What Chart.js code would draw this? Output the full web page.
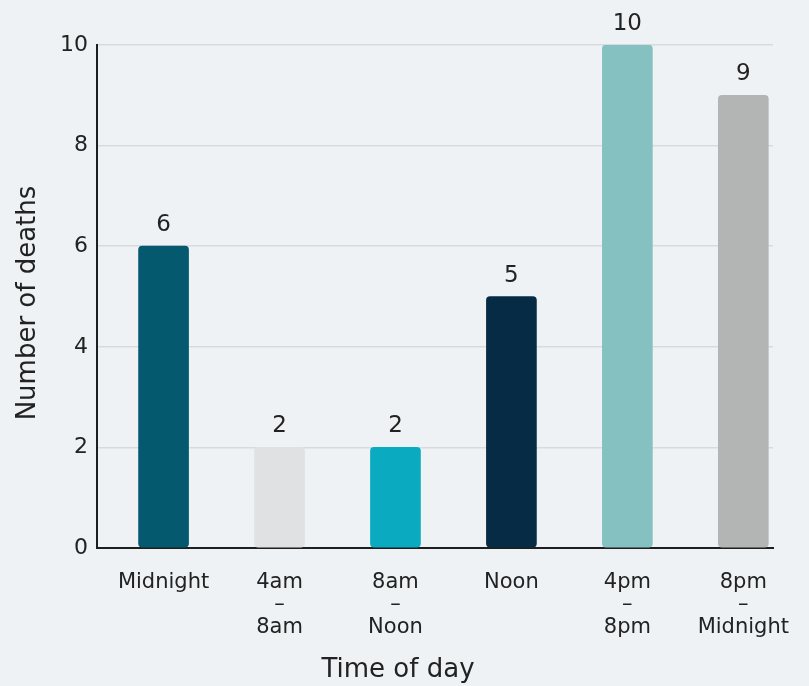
<!DOCTYPE html>
<html>
<head>
<meta charset="utf-8">
<script src="https://cdn.jsdelivr.net/npm/chart.js@4"></script>
<style>
  html, body { margin: 0; padding: 0; background: #eef2f5; }
  canvas { display: block; }
</style>
</head>
<body>
<canvas id="chart" width="809" height="686"></canvas>
<script>
// Deaths by time of day
const categories = ['Midnight', '4am – 8am', '8am – Noon', 'Noon', '4pm – 8pm', '8pm – Midnight'];
const tickLabels = [['Midnight'], ['4am', '–', '8am'], ['8am', '–', 'Noon'], ['Noon'], ['4pm', '–', '8pm'], ['8pm', '–', 'Midnight']];
const deaths = [6, 2, 2, 5, 10, 9];
const yTicks = [0, 2, 4, 6, 8, 10];
const xTitle = 'Time of day';
const yTitle = 'Number of deaths';

const barColors = ['#04596f', '#e0e1e3', '#0aaac0', '#062b44', '#85c1c1', '#b3b4b4'];
const FONT = "'DejaVu Sans', sans-serif";
const INK = '#222222';
// horizontal extent of the category axis, in category units
const X_MIN = -0.574;
const X_MAX = 5.256;

// page background
const backdrop = {
  id: 'backdrop',
  beforeDraw(chart) {
    const { ctx, width, height } = chart;
    ctx.save();
    ctx.fillStyle = '#eef2f5';
    ctx.fillRect(0, 0, width, height);
    ctx.restore();
  }
};

// value labels above bars, plus the two axis titles
const annotations = {
  id: 'annotations',
  afterDatasetsDraw(chart) {
    const { ctx } = chart;
    const meta = chart.getDatasetMeta(0);
    ctx.save();
    ctx.fillStyle = INK;
    ctx.font = `23px ${FONT}`;
    ctx.textAlign = 'center';
    ctx.textBaseline = 'alphabetic';
    meta.data.forEach((bar, i) => {
      ctx.fillText(String(deaths[i]), bar.x, bar.y - 15);
    });

    ctx.font = `26px ${FONT}`;
    ctx.fillText(xTitle, 398, 677);

    ctx.translate(35, 303);
    ctx.rotate(-Math.PI / 2);
    ctx.fillText(yTitle, 0, 0);
    ctx.restore();
  }
};

new Chart(document.getElementById('chart'), {
  type: 'bar',
  data: {
    datasets: [{
      data: deaths.map((v, i) => ({ x: i, y: v })),
      backgroundColor: barColors,
      borderWidth: 0,
      borderRadius: 4,
      borderSkipped: false,
      barThickness: 50
    }]
  },
  options: {
    responsive: false,
    animation: false,
    layout: { padding: { top: 45, right: 36, left: 0, bottom: 0 } },
    plugins: { legend: { display: false }, tooltip: { enabled: false } },
    scales: {
      x: {
        type: 'linear',
        offset: false,
        bounds: 'data',
        min: X_MIN,
        max: X_MAX,
        afterBuildTicks: (s) => {
          s.ticks = categories.map((_, i) => ({ value: i }));
          s.min = X_MIN;
          s.max = X_MAX;
        },
        afterFit: (s) => { s.height = 138; },
        grid: { display: false },
        border: { display: true, color: '#1e1e1e', width: 2 },
        ticks: {
          autoSkip: false,
          maxRotation: 0,
          padding: 15,
          color: INK,
          font: { family: FONT, size: 21, lineHeight: 1.08 },
          callback: (v) => tickLabels[v]
        }
      },
      y: {
        min: 0,
        max: 10,
        afterBuildTicks: (s) => { s.ticks = yTicks.map(v => ({ value: v })); },
        afterFit: (s) => { s.width = 97; },
        grid: { color: '#d7dbde', lineWidth: 1.5, drawTicks: false },
        border: { display: true, color: '#1e1e1e', width: 2 },
        ticks: {
          padding: 9,
          color: INK,
          font: { family: FONT, size: 22 }
        }
      }
    }
  },
  plugins: [backdrop, annotations]
});
</script>
</body>
</html>
